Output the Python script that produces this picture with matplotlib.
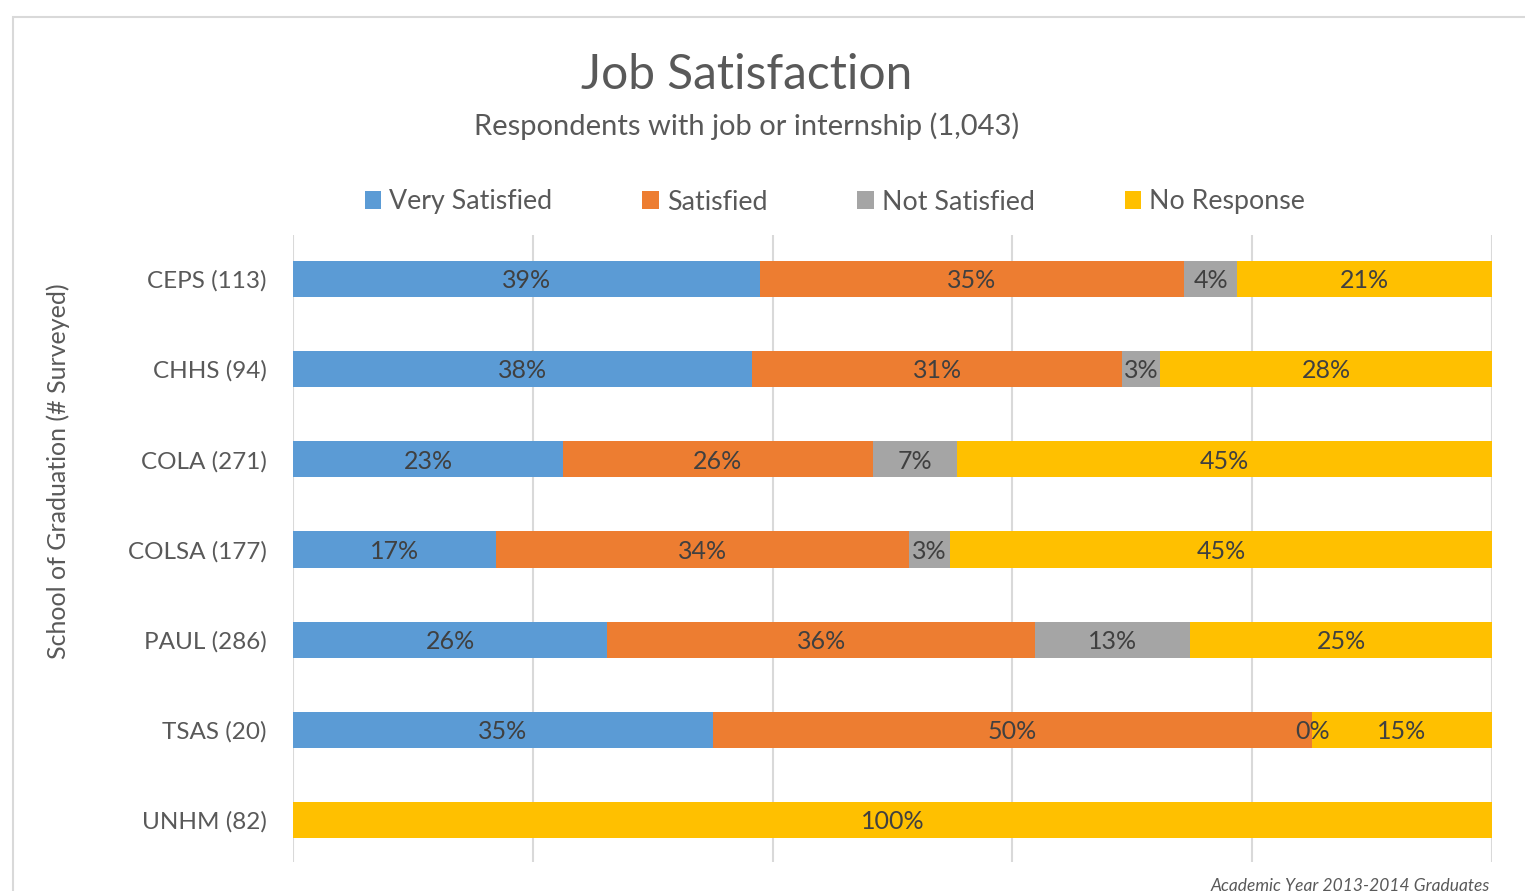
import matplotlib.pyplot as plt
import numpy as np
from matplotlib.patches import Rectangle

schools = ['CEPS (113)', 'CHHS (94)', 'COLA (271)', 'COLSA (177)', 'PAUL (286)', 'TSAS (20)', 'UNHM (82)']
totals = [113, 94, 271, 177, 286, 20, 82]
very_satisfied = [44, 36, 61, 30, 75, 7, 0]
satisfied = [40, 29, 70, 61, 102, 10, 0]
not_satisfied = [5, 3, 19, 6, 37, 0, 0]
no_response = [24, 26, 121, 80, 72, 3, 82]

series = ['Very Satisfied', 'Satisfied', 'Not Satisfied', 'No Response']
colors = ['#5B9BD5', '#ED7D31', '#A5A5A5', '#FFC000']

plt.rcParams['font.family'] = ['Lato', 'DejaVu Sans']

fig = plt.figure(figsize=(15.25, 8.91), dpi=100)
ax = fig.add_axes([293/1525, 1-862/891, (1492-293)/1525, (862-235)/891])

# chart border
fig.patches.append(Rectangle((13/1525, -0.1), 1.2, 1-17/891+0.1, transform=fig.transFigure,
                             fill=False, edgecolor='#D9D9D9', linewidth=1.5))

y = np.arange(len(schools))
tot = np.array(totals, dtype=float)
left = np.zeros(len(schools))
for name, vals, c in zip(series, [very_satisfied, satisfied, not_satisfied, no_response], colors):
    frac = np.array(vals) / tot
    ax.barh(y, frac, left=left, height=0.4, color=c, label=name, zorder=3)
    for i in range(len(schools)):
        if schools[i].startswith('UNHM') and vals[i] == 0:
            continue
        ax.text(left[i] + frac[i]/2, y[i] + 0.02, f'{frac[i]*100:.0f}%', ha='center', va='center',
                fontsize=18, color='#404040', zorder=4)
    left += frac

ax.set_xlim(0, 1)
ax.set_ylim(6.466, -0.488)
ax.set_xticks(np.arange(0, 1.01, 0.2))
ax.xaxis.grid(True, color='#D9D9D9', linewidth=1.5, zorder=0)
ax.tick_params(axis='x', length=0, labelbottom=False)
ax.set_yticks(y)
ax.set_yticklabels(schools)
ax.tick_params(axis='y', length=0, pad=19, labelsize=17.5, labelcolor='#595959')
for s in ax.spines.values():
    s.set_visible(False)

fig.text(58/1525, 1-471/891, 'School of Graduation (# Surveyed)', rotation=90, ha='center', va='center',
         fontsize=18, color='#595959')
fig.text(747/1525, 1-75/891, 'Job Satisfaction', ha='center', va='center', fontsize=34.5, color='#595959')
fig.text(747/1525, 1-126/891, 'Respondents with job or internship (1,043)', ha='center', va='center',
         fontsize=21, color='#595959')
fig.text(1490/1525, 1-886/891, 'Academic Year 2013-2014 Graduates', ha='right', va='center',
         fontsize=12.5, style='italic', color='#595959')

fig.legend(loc='center', bbox_to_anchor=(835/1525, 1-202/891), ncol=4, frameon=False,
           fontsize=19.3, handlelength=0.62, handleheight=0.62, handletextpad=0.3,
           columnspacing=3.35, labelcolor='#595959')

fig.savefig('out.png', dpi=100)
